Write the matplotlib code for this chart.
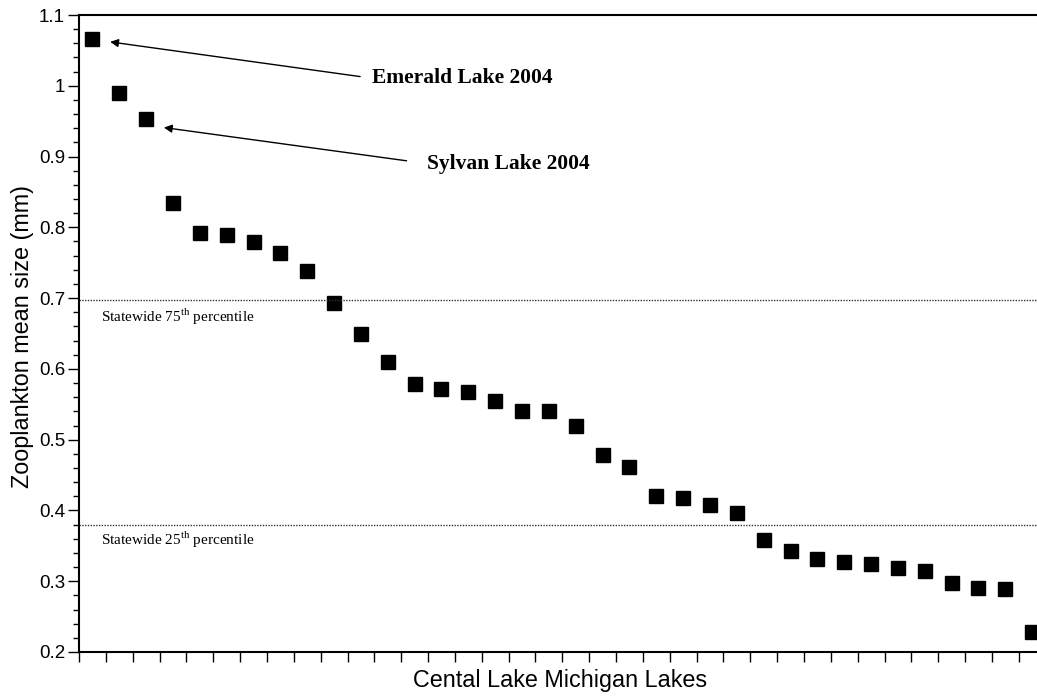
import matplotlib
matplotlib.use("Agg")
import matplotlib.pyplot as plt
from matplotlib.ticker import MultipleLocator, NullFormatter

plt.rcParams["font.family"] = ["Liberation Sans", "DejaVu Sans"]
plt.rcParams["mathtext.fontset"] = "custom"
plt.rcParams["mathtext.rm"] = "Liberation Serif"

# ---- mean zooplankton size per lake, sorted (mm) ----
mean_size = [1.066, 0.990, 0.953, 0.835, 0.792, 0.789, 0.779, 0.764, 0.739, 0.693,
             0.649, 0.610, 0.578, 0.572, 0.568, 0.554, 0.540, 0.540, 0.520, 0.479,
             0.462, 0.420, 0.417, 0.407, 0.397, 0.358, 0.342, 0.332, 0.327, 0.325,
             0.318, 0.315, 0.297, 0.290, 0.289, 0.228]
lake_pos = [i + 0.5 for i in range(len(mean_size))]

# statewide percentiles
pct_75 = 0.697
pct_25 = 0.380

# highlighted lakes: (index in list, label)
callouts = [(0, "Emerald Lake 2004"), (2, "Sylvan Lake 2004")]
callout_text_pos = [(10.9, 1.011), (12.95, 0.889)]
callout_tail_pos = [(10.47, 1.013), (12.2, 0.894)]

fig = plt.figure(figsize=(10.37, 6.96), dpi=100)
ax = fig.add_axes([79 / 1037, 44 / 696, 958 / 1037, 637 / 696])

ax.plot(lake_pos, mean_size, "s", color="black", markersize=10.5, clip_on=True)

ax.axhline(pct_75, color="0.2", linestyle=(0, (1, 1)), linewidth=1)
ax.axhline(pct_25, color="0.2", linestyle=(0, (1, 1)), linewidth=1)
ax.text(0.82, pct_75 - 0.031, "Statewide 75$^{\\mathrm{th}}$ percentile",
        family="Liberation Serif", fontsize=11, va="baseline", ha="left")
ax.text(0.82, pct_25 - 0.029, "Statewide 25$^{\\mathrm{th}}$ percentile",
        family="Liberation Serif", fontsize=11, va="baseline", ha="left")

for (idx, label), tpos, tail in zip(callouts, callout_text_pos, callout_tail_pos):
    tip = (lake_pos[idx] + 0.66, mean_size[idx] - 0.004 * (idx + 1))
    ax.annotate("", xy=tip, xytext=tail,
                arrowprops=dict(arrowstyle="-|>", color="black", lw=1,
                                mutation_scale=12, shrinkA=0, shrinkB=0))
    ax.text(tpos[0], tpos[1], label, family="Liberation Serif", fontweight="bold",
            fontsize=15.5, va="center", ha="left")

ax.set_xlim(0, 958 / 26.85)
ax.set_ylim(0.2, 1.1)
ax.xaxis.set_major_locator(MultipleLocator(1))
ax.xaxis.set_major_formatter(NullFormatter())
ax.yaxis.set_minor_locator(MultipleLocator(0.02))
ax.set_yticks([0.2, 0.3, 0.4, 0.5, 0.6, 0.7, 0.8, 0.9, 1.0, 1.1])
ax.set_yticklabels(["0.2", "0.3", "0.4", "0.5", "0.6", "0.7", "0.8", "0.9", "1", "1.1"])

ax.tick_params(axis="x", which="major", direction="out", length=7, width=1, top=False)
ax.tick_params(axis="y", which="major", direction="out", length=8, width=1,
               labelsize=13.5, pad=2, right=False)
ax.tick_params(axis="y", which="minor", direction="out", length=4, width=1, right=False)

for side in ["left", "bottom", "top"]:
    ax.spines[side].set_linewidth(1.5)
ax.spines["right"].set_visible(False)

ax.set_ylabel("Zooplankton mean size (mm)", fontsize=16.8, va="center")
ax.yaxis.set_label_coords(-0.0585, 0.496)
ax.set_xlabel("Cental Lake Michigan Lakes", fontsize=16.8, va="center")
ax.xaxis.set_label_coords(0.502, -0.045)

plt.savefig("out.png", dpi=100)
